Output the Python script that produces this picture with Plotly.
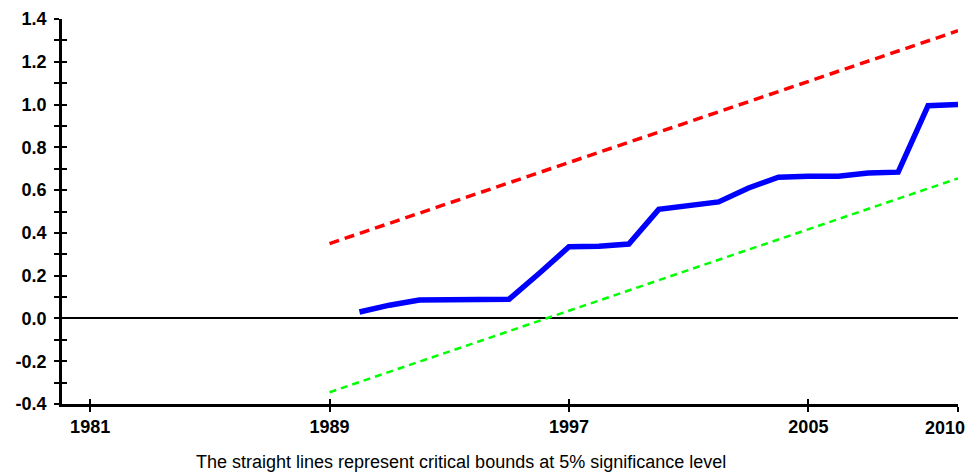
import plotly.graph_objects as go

years = list(range(1990, 2011))
cusumsq = [0.03, 0.062, 0.086, 0.088, 0.09, 0.09, 0.21, 0.335, 0.338, 0.348, 0.51,
           0.525, 0.545, 0.61, 0.66, 0.665, 0.665, 0.68, 0.684, 0.995, 1.0]
bound_years = [1989, 2010]
upper_bound = [0.35, 1.345]
lower_bound = [-0.345, 0.655]

x_ticks = [1981, 1989, 1997, 2005, 2010]
x_labels = ["1981", "1989", "1997", "2005", ""]
last_year_label = "2010"
y_ticks = [-0.4, -0.2, 0.0, 0.2, 0.4, 0.6, 0.8, 1.0, 1.2, 1.4]
y_labels = ["-0.4", "-0.2", "0.0", "0.2", "0.4", "0.6", "0.8", "1.0", "1.2", "1.4"]
note = "The straight lines represent critical bounds at 5% significance level"

fig = go.Figure()
fig.add_trace(go.Scatter(x=bound_years, y=upper_bound, mode="lines",
                         line=dict(color="#FF0000", width=3.5, dash="10px,6px"),
                         hoverinfo="skip"))
fig.add_trace(go.Scatter(x=bound_years, y=lower_bound, mode="lines",
                         line=dict(color="#00FF00", width=2.5, dash="7px,5px"),
                         hoverinfo="skip"))
fig.add_trace(go.Scatter(x=years, y=cusumsq, mode="lines",
                         line=dict(color="#0000FF", width=5.5)))
# invisible trace on overlay axes for inner tick halves
fig.add_trace(go.Scatter(x=[2000], y=[0], mode="markers", marker=dict(opacity=0),
                         xaxis="x2", yaxis="y2", hoverinfo="skip"))

xr = [1980.06, 2010]
yr = [-0.4, 1.4]
fam = "Liberation Sans, Arial, sans-serif"
font = dict(family=fam, size=18, color="black")

fig.update_layout(
    width=969, height=464,
    margin=dict(l=54, r=19, t=11, b=68),
    plot_bgcolor="white", paper_bgcolor="white",
    showlegend=False,
    font=font,
    xaxis=dict(range=xr, tickvals=x_ticks,
               ticktext=[f"<b>{v}</b>" if v else "" for v in x_labels],
               ticks="outside", ticklen=5, tickwidth=2, tickcolor="black",
               showline=True, linecolor="black", linewidth=2.5, automargin=False,
               showgrid=False, zeroline=False, ticklabelstandoff=0),
    yaxis=dict(range=yr, tickvals=y_ticks, ticktext=[f"<b>{t}</b>" for t in y_labels],
               ticks="outside", ticklen=5, tickwidth=2, tickcolor="black",
               minor=dict(dtick=0.1, tick0=0, ticks="outside", ticklen=5, tickwidth=2, tickcolor="black"),
               showline=True, linecolor="black", linewidth=2.5, automargin=False,
               showgrid=False, zeroline=True, zerolinecolor="black", zerolinewidth=2,
               ticklabelstandoff=4),
    xaxis2=dict(range=xr, overlaying="x", tickvals=x_ticks, showticklabels=False,
                ticks="inside", ticklen=5, tickwidth=2, tickcolor="black", automargin=False,
                showgrid=False, zeroline=False, showline=False),
    yaxis2=dict(range=yr, overlaying="y", tickvals=y_ticks, showticklabels=False,
                ticks="inside", ticklen=5, tickwidth=2, tickcolor="black", automargin=False,
                minor=dict(dtick=0.1, tick0=0, ticks="inside", ticklen=5, tickwidth=2, tickcolor="black"),
                showgrid=False, zeroline=False, showline=False),
    annotations=[
        dict(text=f"<b>{last_year_label}</b>", xref="x", yref="paper", x=x_ticks[-1], y=-0.0623,
             showarrow=False, xanchor="right", yanchor="middle", xshift=9,
             font=dict(family=fam, size=18, color="black")),
        dict(text=note, xref="paper", yref="paper", x=0.445, y=-0.151,
             showarrow=False, xanchor="center", yanchor="middle",
             font=dict(family=fam, size=18, color="black")),
    ],
)

fig.write_html("out.html")
